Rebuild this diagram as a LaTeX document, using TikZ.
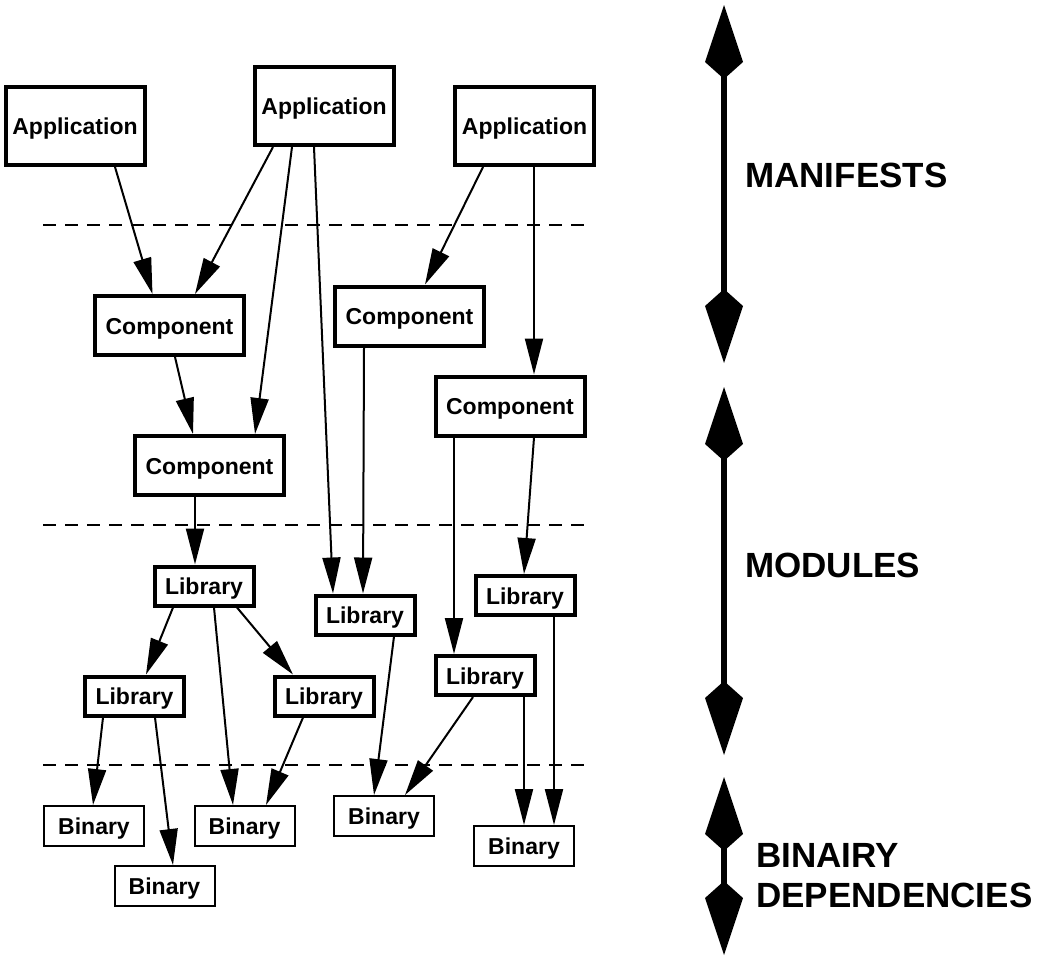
\documentclass[tikz,border=0pt]{standalone}
\usepackage{fontspec}
\setmainfont{Liberation Sans}
\usetikzlibrary{arrows.meta}
\newcommand{\DblKite}[3]{%
  \fill (#1,#2) -- ++(19,57) -- ++(-19,17) -- ++(-19,-17) -- cycle;
  \fill (#1,#3) -- ++(19,-57) -- ++(-19,-17) -- ++(-19,17) -- cycle;
  \draw[line width=6pt] (#1,#2+70) -- (#1,#3-70);
}
\begin{document}
\begin{tikzpicture}[x=1pt,y=-1pt,
  box/.style={draw, line width=4pt, inner sep=0pt, text height=17pt, text depth=0pt,
    font=\fontsize{23}{27}\selectfont\bfseries},
  appbox/.style={box, minimum width=139pt, minimum height=78pt},
  compbox/.style={box, minimum width=149pt, minimum height=59pt},
  libbox/.style={box, minimum width=99pt, minimum height=39pt},
  binbox/.style={box, line width=2pt, minimum width=100pt, minimum height=40pt},
  conn/.style={line width=2pt, -{Triangle[length=36pt,width=18pt]}},
  sep/.style={line width=2pt, dash pattern=on 13pt off 9pt},
  lbl/.style={anchor=base west, inner sep=0pt, font=\fontsize{35}{42}\selectfont\bfseries}]
\useasboundingbox (0,0) rectangle (1056,962);

% boxes
\node[appbox] (app1) at (75,126) {Application};
\node[appbox] (app2) at (324,106) {Application};
\node[appbox] (app3) at (524.5,126) {Application};
\node[compbox] (comp1) at (169.5,325.5) {Component};
\node[compbox] (comp2) at (409.5,316) {Component};
\node[compbox] (comp3) at (510,406) {Component};
\node[compbox] (comp4) at (209.5,465.5) {Component};
\node[libbox] (lib1) at (204,586) {Library};
\node[libbox] (lib2) at (365,615) {Library};
\node[libbox] (lib3) at (525,595.5) {Library};
\node[libbox] (lib4) at (485,675.5) {Library};
\node[libbox] (lib5) at (134.5,696) {Library};
\node[libbox] (lib6) at (324,696) {Library};
\node[binbox] (bin1) at (94,826) {Binary};
\node[binbox] (bin2) at (244.5,826) {Binary};
\node[binbox] (bin3) at (384,816) {Binary};
\node[binbox] (bin4) at (524,846) {Binary};
\node[binbox] (bin5) at (164.5,886) {Binary};

% dashed separators
\coordinate (s1a) at (43,225); \coordinate (s1b) at (588,225);
\coordinate (s2a) at (43,525); \coordinate (s2b) at (588,525);
\coordinate (s3a) at (43,765); \coordinate (s3b) at (588,765);
\draw[sep] (s1a) -- (s1b);
\draw[sep] (s2a) -- (s2b);
\draw[sep] (s3a) -- (s3b);

% connectors
\draw[conn] ([xshift=40pt]app1.south) -- ([xshift=-17pt]comp1.north);
\draw[conn] ([xshift=-51pt]app2.south) -- ([xshift=25.5pt]comp1.north);
\draw[conn] ([xshift=-32pt]app2.south) -- ([xshift=45.5pt]comp4.north);
\draw[conn] ([xshift=-10pt]app2.south) -- ([xshift=-32pt]lib2.north);
\draw[conn] ([xshift=-41.5pt]app3.south) -- ([xshift=15.5pt]comp2.north);
\draw[conn] ([xshift=9.5pt]app3.south) -- ([xshift=24pt]comp3.north);
\draw[conn] ([xshift=5.5pt]comp1.south) -- ([xshift=-16.5pt]comp4.north);
\draw[conn] ([xshift=-14.5pt]comp4.south) -- ([xshift=-9pt]lib1.north);
\draw[conn] ([xshift=-45.5pt]comp2.south) -- ([xshift=-2pt]lib2.north);
\draw[conn] ([xshift=-56pt]comp3.south) -- ([xshift=-31pt]lib4.north);
\draw[conn] ([xshift=24pt]comp3.south) -- ([xshift=-1pt]lib3.north);
\draw[conn] ([xshift=-31pt]lib1.south) -- ([xshift=11.5pt]lib5.north);
\draw[conn] ([xshift=10pt]lib1.south) -- ([xshift=-11.5pt]bin2.north);
\draw[conn] ([xshift=33pt]lib1.south) -- ([xshift=-31pt]lib6.north);
\draw[conn] ([xshift=-31.5pt]lib5.south) -- ([xshift=-1pt]bin1.north);
\draw[conn] ([xshift=20.5pt]lib5.south) -- ([xshift=8.5pt]bin5.north);
\draw[conn] ([xshift=-21pt]lib6.south) -- ([xshift=21.5pt]bin2.north);
\draw[conn] ([xshift=29pt]lib2.south) -- ([xshift=-10pt]bin3.north);
\draw[conn] ([xshift=-12pt]lib4.south) -- ([xshift=21pt]bin3.north);
\draw[conn] ([xshift=39pt]lib4.south) -- ([xshift=0pt]bin4.north);
\draw[conn] ([xshift=29pt]lib3.south) -- ([xshift=30pt]bin4.north);

% level indicators
\DblKite{724}{5}{363}
\DblKite{724}{387}{755}
\DblKite{724}{777}{955}

\node[lbl] (manifests) at (745,187) {MANIFESTS};
\node[lbl] (modules) at (745,577) {MODULES};
\node[lbl] (binairy) at (756,867) {BINAIRY};
\node[lbl] (deps) at (756,907) {DEPENDENCIES};
\end{tikzpicture}
\end{document}
